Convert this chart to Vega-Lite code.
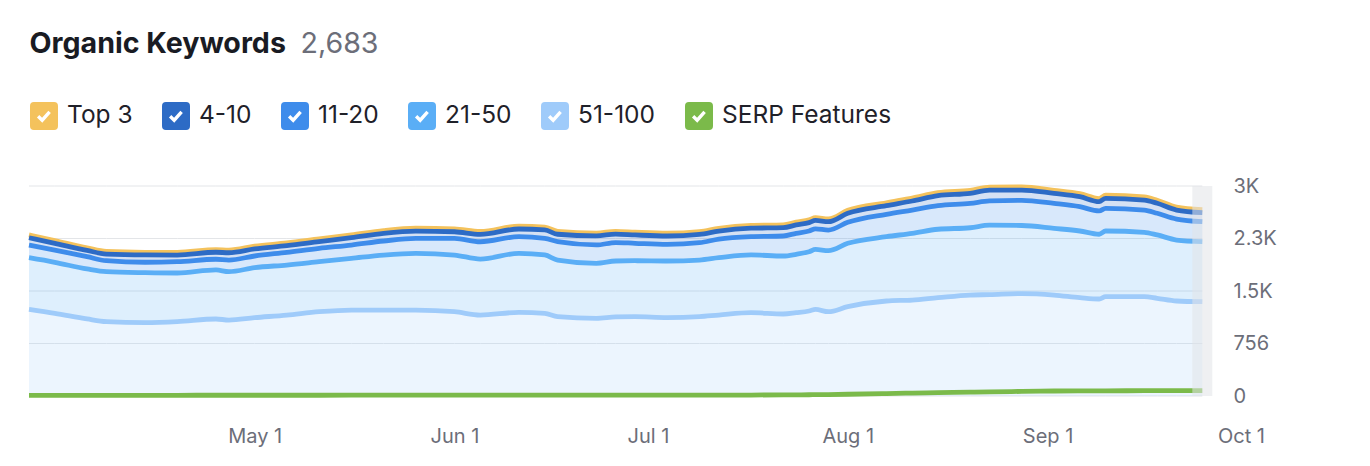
{
  "$schema": "https://vega.github.io/schema/vega-lite/v6.json",
  "width": 1173,
  "height": 210,
  "autosize": {"type": "none"},
  "padding": {"left": 29, "top": 186, "right": 168, "bottom": 70},
  "background": "white",
  "config": {
    "view": {"stroke": null},
    "font": "Inter",
    "legend": {
      "orient": "none",
      "legendX": 1,
      "legendY": -84,
      "direction": "horizontal",
      "padding": 0,
      "symbolType": "M-1,-0.72 Q-1,-1 -0.72,-1 L0.72,-1 Q1,-1 1,-0.72 L1,0.72 Q1,1 0.72,1 L-0.72,1 Q-1,1 -1,0.72 Z M-0.337,-0.066 L-0.503,0.106 L-0.123,0.474 L0.49,-0.22 L0.31,-0.38 L-0.137,0.126 Z",
      "symbolSize": 784,
      "symbolStrokeWidth": 0,
      "symbolOpacity": 1,
      "labelFont": "Inter",
      "labelFontSize": 24.5,
      "labelColor": "#1f2129",
      "labelOffset": 9,
      "labelLimit": 400,
      "columnPadding": 29
    }
  },
  "data": {
    "values": [
      {"date": "2024-03-27", "t3": 40, "k4": 105, "k11": 183, "k21": 743, "k51": 1248, "serp": 10},
      {"date": "2024-03-31", "t3": 40, "k4": 96, "k11": 177, "k21": 734, "k51": 1191, "serp": 10},
      {"date": "2024-04-05", "t3": 38, "k4": 90, "k11": 177, "k21": 720, "k51": 1109, "serp": 10},
      {"date": "2024-04-08", "t3": 38, "k4": 95, "k11": 158, "k21": 720, "k51": 1070, "serp": 10},
      {"date": "2024-04-14", "t3": 38, "k4": 105, "k11": 150, "k21": 720, "k51": 1056, "serp": 10},
      {"date": "2024-04-19", "t3": 38, "k4": 96, "k11": 163, "k21": 701, "k51": 1070, "serp": 10},
      {"date": "2024-04-25", "t3": 38, "k4": 101, "k11": 154, "k21": 706, "k51": 1109, "serp": 11},
      {"date": "2024-04-27", "t3": 38, "k4": 105, "k11": 168, "k21": 696, "k51": 1094, "serp": 11},
      {"date": "2024-05-01", "t3": 40, "k4": 101, "k11": 168, "k21": 720, "k51": 1128, "serp": 11},
      {"date": "2024-05-06", "t3": 40, "k4": 95, "k11": 183, "k21": 720, "k51": 1166, "serp": 11},
      {"date": "2024-05-11", "t3": 40, "k4": 95, "k11": 193, "k21": 720, "k51": 1214, "serp": 11},
      {"date": "2024-05-16", "t3": 40, "k4": 105, "k11": 192, "k21": 744, "k51": 1238, "serp": 12},
      {"date": "2024-05-21", "t3": 40, "k4": 111, "k11": 202, "k21": 792, "k51": 1238, "serp": 12},
      {"date": "2024-05-26", "t3": 42, "k4": 105, "k11": 216, "k21": 816, "k51": 1238, "serp": 12},
      {"date": "2024-06-01", "t3": 42, "k4": 95, "k11": 240, "k21": 816, "k51": 1214, "serp": 12},
      {"date": "2024-06-05", "t3": 42, "k4": 107, "k11": 249, "k21": 806, "k51": 1166, "serp": 12},
      {"date": "2024-06-11", "t3": 42, "k4": 111, "k11": 239, "k21": 850, "k51": 1205, "serp": 12},
      {"date": "2024-06-15", "t3": 42, "k4": 120, "k11": 240, "k21": 840, "k51": 1191, "serp": 12},
      {"date": "2024-06-17", "t3": 42, "k4": 107, "k11": 264, "k21": 816, "k51": 1142, "serp": 12},
      {"date": "2024-06-23", "t3": 40, "k4": 130, "k11": 264, "k21": 792, "k51": 1119, "serp": 13},
      {"date": "2024-06-26", "t3": 40, "k4": 122, "k11": 266, "k21": 806, "k51": 1138, "serp": 13},
      {"date": "2024-06-29", "t3": 40, "k4": 120, "k11": 251, "k21": 806, "k51": 1142, "serp": 13},
      {"date": "2024-07-04", "t3": 40, "k4": 120, "k11": 240, "k21": 816, "k51": 1128, "serp": 13},
      {"date": "2024-07-09", "t3": 40, "k4": 121, "k11": 249, "k21": 816, "k51": 1142, "serp": 13},
      {"date": "2024-07-12", "t3": 40, "k4": 115, "k11": 269, "k21": 825, "k51": 1166, "serp": 13},
      {"date": "2024-07-17", "t3": 40, "k4": 121, "k11": 264, "k21": 831, "k51": 1200, "serp": 14},
      {"date": "2024-07-22", "t3": 40, "k4": 120, "k11": 288, "k21": 835, "k51": 1181, "serp": 16},
      {"date": "2024-07-24", "t3": 40, "k4": 120, "k11": 302, "k21": 841, "k51": 1200, "serp": 17},
      {"date": "2024-07-26", "t3": 40, "k4": 120, "k11": 298, "k21": 854, "k51": 1224, "serp": 18},
      {"date": "2024-07-27", "t3": 40, "k4": 120, "k11": 298, "k21": 864, "k51": 1246, "serp": 19},
      {"date": "2024-07-29", "t3": 40, "k4": 120, "k11": 298, "k21": 878, "k51": 1214, "serp": 21},
      {"date": "2024-08-01", "t3": 42, "k4": 130, "k11": 302, "k21": 913, "k51": 1286, "serp": 25},
      {"date": "2024-08-07", "t3": 42, "k4": 124, "k11": 323, "k21": 926, "k51": 1368, "serp": 35},
      {"date": "2024-08-11", "t3": 42, "k4": 130, "k11": 336, "k21": 960, "k51": 1382, "serp": 42},
      {"date": "2024-08-15", "t3": 42, "k4": 144, "k11": 340, "k21": 985, "k51": 1416, "serp": 48},
      {"date": "2024-08-20", "t3": 44, "k4": 144, "k11": 351, "k21": 969, "k51": 1454, "serp": 55},
      {"date": "2024-08-23", "t3": 44, "k4": 154, "k11": 350, "k21": 1000, "k51": 1460, "serp": 60},
      {"date": "2024-08-28", "t3": 44, "k4": 148, "k11": 363, "k21": 980, "k51": 1475, "serp": 66},
      {"date": "2024-09-02", "t3": 44, "k4": 144, "k11": 360, "k21": 960, "k51": 1454, "serp": 72},
      {"date": "2024-09-06", "t3": 44, "k4": 144, "k11": 350, "k21": 960, "k51": 1416, "serp": 74},
      {"date": "2024-09-09", "t3": 44, "k4": 134, "k11": 336, "k21": 932, "k51": 1397, "serp": 75},
      {"date": "2024-09-10", "t3": 44, "k4": 144, "k11": 327, "k21": 946, "k51": 1430, "serp": 75},
      {"date": "2024-09-16", "t3": 44, "k4": 144, "k11": 321, "k21": 927, "k51": 1430, "serp": 76},
      {"date": "2024-09-18", "t3": 42, "k4": 144, "k11": 312, "k21": 912, "k51": 1407, "serp": 76},
      {"date": "2024-09-21", "t3": 42, "k4": 130, "k11": 302, "k21": 878, "k51": 1368, "serp": 76},
      {"date": "2024-09-25", "t3": 42, "k4": 131, "k11": 288, "k21": 864, "k51": 1358, "serp": 76}
    ]
  },
  "encoding": {
    "x": {
      "field": "date",
      "type": "temporal",
      "scale": {
        "type": "utc",
        "domain": [
          {"year": 2024, "month": 3, "date": 27, "utc": true},
          {"year": 2024, "month": 10, "date": 1, "utc": true}
        ],
        "range": [0, 1212]
      },
      "axis": {
        "values": [
          {"year": 2024, "month": 5, "date": 1, "utc": true},
          {"year": 2024, "month": 6, "date": 1, "utc": true},
          {"year": 2024, "month": 7, "date": 1, "utc": true},
          {"year": 2024, "month": 8, "date": 1, "utc": true},
          {"year": 2024, "month": 9, "date": 1, "utc": true},
          {"year": 2024, "month": 10, "date": 1, "utc": true}
        ],
        "format": "%b %-d",
        "labelFlush": false,
        "labelOverlap": false,
        "domain": false,
        "ticks": false,
        "tickSize": 0,
        "grid": false,
        "labelPadding": 30,
        "labelFont": "Inter",
        "labelFontSize": 20,
        "labelColor": "#6c6e79",
        "title": "Organic Keywords",
        "titleX": 0,
        "titleY": -343.5,
        "titleAlign": "left",
        "titleBaseline": "alphabetic",
        "titleAngle": 0,
        "titleFont": "Inter",
        "titleFontSize": 28.6,
        "titleFontWeight": "bold",
        "titleColor": "#191b23"
      }
    },
    "color": {
      "field": "series",
      "type": "nominal",
      "scale": {
        "domain": ["t3", "k4", "k11", "k21", "k51", "serp"],
        "range": ["#f4c25c", "#2d6bc5", "#3e8ceb", "#5aaef6", "#9fcbfa", "#7bba4a"]
      },
      "legend": {
        "title": null,
        "labelExpr": "datum.label == 't3' ? 'Top 3' : datum.label == 'k4' ? '4-10' : datum.label == 'k11' ? '11-20' : datum.label == 'k21' ? '21-50' : datum.label == 'k51' ? '51-100' : 'SERP Features'",
        "encode": {
          "symbols": {
            "update": {
              "fill": {"scale": "color", "field": "value"},
              "fillOpacity": {"value": 1},
              "opacity": {"value": 1},
              "stroke": {"value": "transparent"},
              "strokeWidth": {"value": 0}
            }
          }
        }
      }
    }
  },
  "layer": [
    {
      "mark": {"type": "line", "strokeWidth": 1},
      "encoding": {"y": {"datum": 0, "type": "quantitative"}, "color": {"value": "#e3e5e8"}}
    },
    {
      "mark": {"type": "line", "strokeWidth": 1},
      "encoding": {"y": {"datum": 756, "type": "quantitative"}, "color": {"value": "#e3e5e8"}}
    },
    {
      "mark": {"type": "line", "strokeWidth": 1},
      "encoding": {"y": {"datum": 1512, "type": "quantitative"}, "color": {"value": "#e3e5e8"}}
    },
    {
      "mark": {"type": "line", "strokeWidth": 1},
      "encoding": {"y": {"datum": 2268, "type": "quantitative"}, "color": {"value": "#e3e5e8"}}
    },
    {
      "mark": {"type": "line", "strokeWidth": 1},
      "encoding": {"y": {"datum": 3024, "type": "quantitative"}, "color": {"value": "#e3e5e8"}}
    },
    {
      "transform": [
        {"fold": ["t3", "k4", "k11", "k21", "k51"], "as": ["series", "count"]},
        {"calculate": "indexof(['k51','k21','k11','k4','t3'], datum.series)", "as": "rank"},
        {"stack": "count", "groupby": ["date"], "sort": [{"field": "rank", "order": "ascending"}], "as": ["y0", "y1"]}
      ],
      "mark": {"type": "area", "fillOpacity": 0.2, "interpolate": "monotone"},
      "encoding": {
        "y": {
          "field": "y1",
          "type": "quantitative",
          "stack": null,
          "scale": {"domain": [0, 3024], "nice": false, "zero": true},
          "axis": {
            "orient": "right",
            "values": [0, 756, 1512, 2268, 3024],
            "labelExpr": "datum.value == 0 ? '0' : datum.value < 1000 ? format(datum.value, 'd') : format(datum.value / 1000, '.1~f') + 'K'",
            "grid": false,
            "domain": false,
            "ticks": false,
            "tickSize": 0,
            "labelPadding": 31,
            "labelAlign": "left",
            "labelBaseline": "middle",
            "labelFont": "Inter",
            "labelFontSize": 20,
            "labelColor": "#6c6e79",
            "title": "2,683",
            "titleAngle": 0,
            "titleX": -902,
            "titleY": -133.5,
            "titleAlign": "left",
            "titleBaseline": "alphabetic",
            "titleFont": "Inter",
            "titleFontSize": 28.6,
            "titleFontWeight": "normal",
            "titleColor": "#6c6e79"
          }
        },
        "y2": {"field": "y0"}
      }
    },
    {
      "transform": [
        {"fold": ["t3", "k4", "k11", "k21", "k51"], "as": ["series", "count"]},
        {"calculate": "indexof(['k51','k21','k11','k4','t3'], datum.series)", "as": "rank"},
        {"stack": "count", "groupby": ["date"], "sort": [{"field": "rank", "order": "ascending"}], "as": ["y0", "y1"]},
        {"filter": "datum.series == 't3'"}
      ],
      "mark": {"type": "line", "strokeWidth": 4.8, "interpolate": "monotone"},
      "encoding": {
        "y": {"field": "y1", "type": "quantitative", "stack": null}
      }
    },
    {
      "transform": [
        {"fold": ["t3", "k4", "k11", "k21", "k51"], "as": ["series", "count"]},
        {"calculate": "indexof(['k51','k21','k11','k4','t3'], datum.series)", "as": "rank"},
        {"stack": "count", "groupby": ["date"], "sort": [{"field": "rank", "order": "ascending"}], "as": ["y0", "y1"]},
        {"filter": "datum.series != 't3'"}
      ],
      "mark": {"type": "line", "strokeWidth": 4.8, "interpolate": "monotone"},
      "encoding": {
        "y": {"field": "y1", "type": "quantitative", "stack": null}
      }
    },
    {
      "transform": [
        {"fold": ["serp"], "as": ["series", "y1"]}
      ],
      "mark": {"type": "line", "strokeWidth": 4.8, "interpolate": "monotone"},
      "encoding": {
        "y": {"field": "y1", "type": "quantitative", "stack": null}
      }
    },
    {
      "transform": [
        {"filter": "utcmonth(toDate(datum.date)) == 8 && utcdate(toDate(datum.date)) == 25"}
      ],
      "mark": {"type": "rule", "strokeWidth": 20, "opacity": 0.55},
      "encoding": {
        "color": {"value": "#e2e4e7"}
      }
    }
  ]
}
